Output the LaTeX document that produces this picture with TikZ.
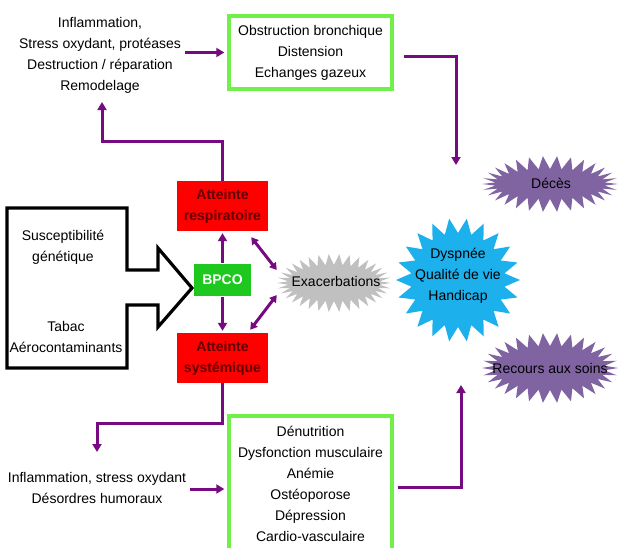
\documentclass[tikz,border=0pt]{standalone}
\usepackage{fontspec}
\setmainfont{Liberation Sans}
\usetikzlibrary{arrows.meta}
\definecolor{purp}{RGB}{118,10,128}
\definecolor{starpurp}{RGB}{128,100,162}
\definecolor{starblue}{RGB}{28,176,236}
\definecolor{stargray}{RGB}{192,192,192}
\definecolor{boxgreen}{RGB}{112,240,72}
\definecolor{bpcogreen}{RGB}{30,200,30}
\definecolor{redbox}{RGB}{255,0,0}
\definecolor{redtext}{RGB}{95,0,0}
\newcommand\spikyshape[7]{% fill, cx, cy, rx, ry, n, depth
  \pgfmathtruncatemacro\spksamples{2*#6+1}%
  \fill[#1] plot[samples=\spksamples, domain=0:360, variable=\t]
    ({#2+(#4-#7*mod(round(\t*#6/180),2))*cos(\t)},{#3+(#5-#7*mod(round(\t*#6/180),2))*sin(\t)}) -- cycle;}
\begin{document}
\begin{tikzpicture}[x=1pt,y=-1pt,
  every node/.style={font=\fontsize{14}{21}\selectfont, align=center, inner sep=2pt},
  txt/.style={},
  greenbox/.style={draw=boxgreen, line width=3.4pt},
  redstyle/.style={fill=redbox, text=redtext, font=\fontsize{14}{21}\selectfont\bfseries, minimum width=91pt, minimum height=50pt},
  conn/.style={draw=purp, line width=3pt},
  arr/.style={conn, -{Triangle[length=8pt,width=9pt]}},
  darr/.style={conn, {Triangle[length=7pt,width=8pt]}-{Triangle[length=7pt,width=8pt]}},
]
\useasboundingbox (0,0) rectangle (619,547);

% starbursts
\spikyshape{stargray}{334}{283}{57}{29}{34}{11}
\spikyshape{starblue}{458}{280}{62}{62}{22}{15}
\spikyshape{starpurp}{550}{184}{68}{28}{30}{13}
\spikyshape{starpurp}{550}{368}{68}{35}{30}{13}

% block arrow
\draw[line width=3.2pt, line join=miter] (7,208) -- (127,208) -- (127,270) -- (158,270) -- (158,248)
  -- (192,288) -- (158,327) -- (158,305) -- (127,305) -- (127,368) -- (7,368) -- cycle;
\node[txt] (susc) at (63,247) {Susceptibilité\\génétique};
\node[txt] (tabac) at (66,337) {Tabac\\Aérocontaminants};

% text nodes
\node[txt] (tl) at (100,55.5) {Inflammation,\\Stress oxydant, protéases\\Destruction / réparation\\Remodelage};
\node[greenbox, minimum width=163pt, minimum height=73pt] (topbox) at (310.5,52.5)
  {Obstruction bronchique\\Distension\\Echanges gazeux};
\node[redstyle] (resp) at (222.5,206) {Atteinte\\respiratoire};
\node[redstyle] (syst) at (222.5,358) {Atteinte\\systémique};
\node[fill=bpcogreen, text=white, font=\fontsize{14}{21}\selectfont\bfseries, minimum width=57pt, minimum height=32pt] (bpco) at (222.5,280) {BPCO};
\node[txt, minimum width=112pt, minimum height=57pt] (exa) at (336,281) {Exacerbations};
\node[txt] (dysp) at (458,276) {Dyspnée\\Qualité de vie\\Handicap};
\node[txt] (deces) at (551,183) {Décès};
\node[txt] (recours) at (550,368) {Recours aux soins};
\node[txt] (bl) at (97,487.5) {Inflammation, stress oxydant\\Désordres humoraux};
\node[greenbox, minimum width=163pt, minimum height=139pt] (botbox) at (310.5,485.5) {};
\node[txt] (botlist) at (310.5,484) {Dénutrition\\Dysfonction musculaire\\Anémie\\Ostéoporose\\Dépression\\Cardio-vasculaire};

% connectors
\coordinate (tlin) at (102,102);
\coordinate (topturn) at (456,56);
\coordinate (topend) at (456,165);
\coordinate (blin) at (97,452);
\coordinate (botend) at (461,385);

\draw[arr] (resp.north) |- (102,141) -- (tlin);
\draw[arr, shorten <=2pt, shorten >=3pt] (tl.east |- topbox.west) -- (topbox.west);
\draw[arr] ([xshift=10pt]topbox.east |- topturn) -- (topturn) -- (topend);
\draw[arr, shorten <=1pt, shorten >=2pt] (bpco.north) -- (resp.south);
\draw[arr, shorten <=1pt, shorten >=2pt] (bpco.south) -- (syst.north);
\draw[darr] ([shift={(-17pt,-6pt)}]resp.south east) -- ([shift={(-3pt,11pt)}]exa.west);
\draw[darr] ([shift={(-3pt,-14pt)}]exa.west) -- ([shift={(-18pt,3pt)}]syst.north east);
\draw[arr] (syst.south) |- (97,423) -- (blin);
\draw[arr, shorten <=2pt, shorten >=3pt] ([yshift=-1.5pt]bl.east) -- ([yshift=-1.5pt]bl.east -| botbox.west);
\draw[arr] ([xshift=4pt]botbox.east |- 0,487) -| (botend);
\end{tikzpicture}
\end{document}
